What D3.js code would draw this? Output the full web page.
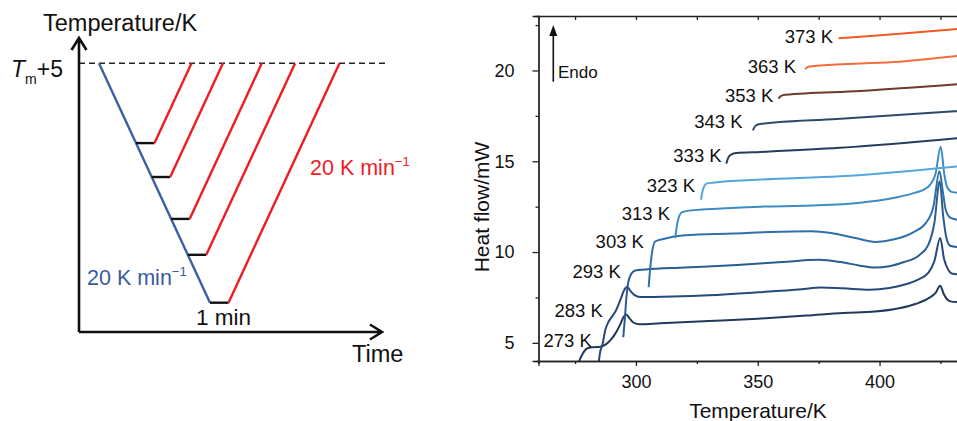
<!DOCTYPE html>
<html>
<head>
<meta charset="utf-8">
<script src="https://cdn.jsdelivr.net/npm/d3@7"></script>
<style>
  body { margin: 0; background: #fff; }
  svg { display: block; font-family: "Liberation Sans", Arial, Helvetica, sans-serif; }
  .axis path, .axis line { stroke: #222; stroke-width: 1.3; }
  .axis text { font-size: 18px; fill: #111; font-family: "Liberation Sans", Arial, sans-serif; }
</style>
</head>
<body>
<svg width="957" height="421"></svg>
<script>
// ---- left panel: temperature programme (schematic) ----
const holdDrops = [40, 57, 78, 96, 120];   // K below Tm+5 where the sample is held
const coolRate = 20;                        // K/min
const heatRate = 20;                        // K/min
const holdTime = 1;                         // min

// ---- right panel: DSC heating scans, [T (K), heat flow (mW)] ----
const scanLabels = ["273 K", "283 K", "293 K", "303 K", "313 K", "323 K",
                    "333 K", "343 K", "353 K", "363 K", "373 K"];
const c273 = [[276.4,3.9],[277.8,4.32],[279.9,4.69],[282.5,4.76],[285.3,4.79],[287.8,4.93],
  [289.9,5.2],[291.9,5.59],[293.6,6.03],[294.8,6.4],[296.0,6.56],[297.3,6.36],[298.9,6.12],
  [301.5,6.02],[310,6.08],[330,6.2],[350,6.33],[370,6.5],[385,6.65],[398,6.72],[408,6.9],
  [415,7.15],[420,7.45],[423,7.75],[424.9,8.15],[426.3,7.7],[427.7,7.4],[429.5,7.27],[432,7.25]];
const c283 = [[284.7,3.9],[285.3,4.49],[286.2,4.87],[287.4,5.7],[288.7,6.15],[290.3,6.47],
  [291.9,6.81],[293.6,7.36],[295.2,7.91],[296.4,8.09],[297.7,7.86],[299.3,7.64],[301.8,7.52],
  [315,7.55],[330,7.62],[350,7.78],[368,7.95],[376,8.05],[385,8.0],[396,7.92],[404,8.02],
  [410,8.2],[416,8.5],[420,8.85],[422.5,9.5],[424.9,10.77],[426.5,9.6],[428.3,9.0],[430,8.8],[432,8.78]];
const c293 = [[294.8,5.31],[295.4,6.25],[296.0,7.36],[296.8,8.3],[298.1,8.8],[299.7,8.99],
  [303.8,9.04],[320,9.15],[341.5,9.29],[360,9.45],[375,9.57],[384,9.45],[392,9.25],[398,9.15],
  [404,9.22],[410,9.45],[416,9.8],[420,10.4],[422.5,11.6],[424.7,13.9],[426.1,12.0],
  [427.4,10.8],[429,10.35],[432,10.27]];
const c303 = [[305.2,8.06],[306.2,9.57],[307.9,10.58],[311.3,10.72],[320,10.92],[340,11.02],
  [355,11.1],[372,11.14],[380,11.05],[390,10.77],[398.3,10.56],[406,10.7],[414,11.1],[419,11.6],
  [422.1,12.5],[424.6,14.45],[426,13.3],[427.2,12.3],[429,11.9],[432,11.78]];
const c313 = [[316.1,10.77],[317.0,11.6],[318.9,12.2],[322.3,12.29],[335,12.4],[351,12.5],
  [372,12.56],[392,12.72],[405.6,12.98],[414.7,13.27],[419.6,13.55],[422.9,14.27],[425.1,15.8],
  [426.6,14.27],[427.8,13.55],[429.9,13.3],[432,13.27]];
const c323 = [[326.7,12.88],[327.5,13.44],[329.0,13.77],[331.5,13.82],[351,13.99],[383.7,14.17],[432,14.72]];
const c333 = [[337.1,14.87],[337.9,15.2],[339.1,15.37],[341.2,15.45],[351,15.51],[383.7,15.74],[432,16.27]];
const c343 = [[348.0,16.7],[349.2,16.97],[351,17.05],[382.5,17.33],[432,17.76]];
const c353 = [[358.5,18.45],[359.6,18.6],[361.3,18.66],[392.1,18.87],[432,19.24]];
const c363 = [[369.5,20.08],[370.8,20.2],[375.7,20.27],[405.8,20.46],[432,20.8]];
const c373 = [[383.2,21.78],[392.1,21.86],[405.8,21.99],[432,22.28]];
const scans = [c273, c283, c293, c303, c313, c323, c333, c343, c353, c363, c373];
// where each label sits, [T, heat flow]
const labelAt = [[281.9,4.75],[286.4,6.41],[293.8,8.55],[303.3,10.21],[314.0,11.77],[324.3,13.32],
                 [335.2,14.98],[343.8,16.82],[356.4,18.28],[365.7,19.84],[380.9,21.5]];
const scanColors = ["#22395c", "#27497a", "#2a5b91", "#2f70a8", "#3d8dc5", "#55a6da",
                    "#263e5e", "#2e4868", "#6e3b2b", "#f26c3c", "#f05a24"];

const xMajor = [300, 350, 400];
const xMinor = [275, 325, 375, 425];
const yMajor = [5, 10, 15, 20];
const yMinor = [7.5, 12.5, 17.5, 22.5];

const svg = d3.select("svg");
svg.append("rect").attr("width", 957).attr("height", 421).attr("fill", "#fff");

// ================= left panel =================
const L = svg.append("g");
const tx = d3.scaleLinear().domain([0, 13]).range([99, 339.5]);
const ty = d3.scaleLinear().domain([0, 120]).range([63.3, 302.7]);
const deepest = d3.max(holdDrops);

// dashed Tm+5 level
L.append("line")
  .attr("x1", 79).attr("x2", 386)
  .attr("y1", ty(0)).attr("y2", ty(0))
  .attr("stroke", "#222").attr("stroke-width", 1.6)
  .attr("stroke-dasharray", "6,4");

// cooling ramp
L.append("line")
  .attr("x1", tx(0)).attr("y1", ty(0))
  .attr("x2", tx(deepest / coolRate)).attr("y2", ty(deepest))
  .attr("stroke", "#3d5fa6").attr("stroke-width", 2.4);

holdDrops.forEach(d => {
  const t0 = d / coolRate, t1 = t0 + holdTime;
  L.append("line")
    .attr("x1", tx(t0)).attr("x2", tx(t1))
    .attr("y1", ty(d)).attr("y2", ty(d))
    .attr("stroke", "#111").attr("stroke-width", 2.4);
  L.append("line")
    .attr("x1", tx(t1)).attr("y1", ty(d))
    .attr("x2", tx(t1 + d / heatRate)).attr("y2", ty(0))
    .attr("stroke", "#ee1c24").attr("stroke-width", 2.4);
});

// axes with open arrow heads
L.append("path")
  .attr("d", "M79,332V38M71.5,50L79,38L86.5,50M79,332H382M370,324.5L382,332L370,339.5")
  .attr("fill", "none").attr("stroke", "#111").attr("stroke-width", 2.6);

L.append("text").attr("x", 43).attr("y", 31).attr("font-size", 23.5).attr("fill", "#111")
  .text("Temperature/K");
L.append("text").attr("x", 352).attr("y", 362).attr("font-size", 23.5).attr("fill", "#111")
  .text("Time");
const tm = L.append("text").attr("x", 11).attr("y", 77).attr("font-size", 23).attr("fill", "#111");
tm.append("tspan").attr("font-style", "italic").text("T");
tm.append("tspan").attr("font-size", 14).attr("dy", 7).text("m");
tm.append("tspan").attr("dy", -7).text("+5");
L.append("text").attr("x", 196).attr("y", 325).attr("font-size", 22.5).attr("fill", "#111")
  .text("1 min");

function rateLabel(x, y, color) {
  const t = L.append("text").attr("x", x).attr("y", y).attr("font-size", 21.5).attr("fill", color);
  t.append("tspan").text("20 K min");
  t.append("tspan").attr("font-size", 13).attr("dy", -9).text("\u22121");
}
rateLabel(87, 285, "#3a5aa0");
rateLabel(310, 175, "#ee1c24");

// ================= right panel =================
const R = svg.append("g");
const x = d3.scaleLinear().domain([260, 440]).range([538.5, 977]);
const y = d3.scaleLinear().domain([4, 23]).range([361, 16]);

R.append("clipPath").attr("id", "plot")
  .append("rect").attr("x", 538.5).attr("y", 16).attr("width", 440).attr("height", 345);

const line = d3.line()
  .x(d => x(d[0])).y(d => y(d[1]))
  .curve(d3.curveMonotoneX);

R.append("g").attr("clip-path", "url(#plot)")
  .selectAll("path")
  .data(scans)
  .join("path")
  .attr("d", line)
  .attr("fill", "none")
  .attr("stroke", (d, i) => scanColors[i])
  .attr("stroke-width", 2)
  .attr("stroke-linejoin", "round");

R.selectAll("text.lab")
  .data(scanLabels)
  .join("text")
  .attr("class", "lab")
  .attr("x", (d, i) => x(labelAt[i][0]))
  .attr("y", (d, i) => y(labelAt[i][1]))
  .attr("text-anchor", "end")
  .attr("font-size", 18.5)
  .attr("fill", "#111")
  .text(d => d);

// axes
R.append("g").attr("class", "axis").attr("transform", "translate(0,361)")
  .call(d3.axisBottom(x).tickValues(xMajor).tickSize(5).tickPadding(9).tickFormat(d3.format("d")));
R.append("g").attr("class", "axis").attr("transform", "translate(0,361)")
  .call(d3.axisBottom(x).tickValues(xMinor).tickSize(3).tickFormat(""));
R.append("g").attr("class", "axis").attr("transform", "translate(0,16)")
  .call(d3.axisTop(x).tickValues(xMajor.concat(xMinor)).tickSize(-4).tickFormat(""));
R.append("g").attr("class", "axis").attr("transform", "translate(538.5,0)")
  .call(d3.axisLeft(y).tickValues(yMajor).tickSize(6).tickPadding(18).tickFormat(d3.format("d")));
R.append("g").attr("class", "axis").attr("transform", "translate(538.5,0)")
  .call(d3.axisLeft(y).tickValues(yMinor).tickSize(3).tickFormat(""));
R.selectAll(".axis .domain").attr("stroke-width", 1.5);

R.append("text").attr("x", 758).attr("y", 418).attr("text-anchor", "middle")
  .attr("font-size", 21).attr("fill", "#111").text("Temperature/K");
R.append("text").attr("transform", "translate(489,207) rotate(-90)").attr("text-anchor", "middle")
  .attr("font-size", 21).attr("fill", "#111").text("Heat flow/mW");

// Endo arrow
R.append("line").attr("x1", 553.3).attr("x2", 553.3).attr("y1", 81.7).attr("y2", 33)
  .attr("stroke", "#111").attr("stroke-width", 1.6);
R.append("path").attr("d", "M549.3,36L553.3,25L557.3,36Z").attr("fill", "#111");
R.append("text").attr("x", 558).attr("y", 78).attr("font-size", 17).attr("fill", "#111").text("Endo");
</script>
</body>
</html>
